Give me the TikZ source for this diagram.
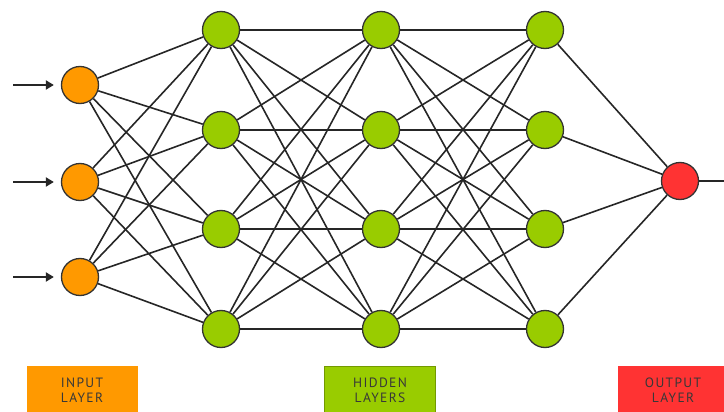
\documentclass[tikz,border=0pt]{standalone}
\usepackage{fontspec}
\newfontfamily\layerfont[LetterSpace=10]{PT Sans}
\usepackage{tikz}
\usetikzlibrary{positioning}
\usetikzlibrary{arrows.meta}
\usepackage{xcolor}
\definecolor{inorange}{HTML}{FF9900}
\definecolor{hidgreen}{HTML}{99CC00}
\definecolor{outred}{HTML}{FF3333}

\begin{document}
\begin{tikzpicture}[x=1pt, y=-1pt,
		neuron/.style={circle, draw=black!80, line width=1.3pt, minimum size=37pt, inner sep=0pt},
		link/.style={black!85, line width=1.6pt},
		layerbox/.style={minimum width=111pt, minimum height=48pt, anchor=north, align=center, inner sep=0pt, text=black!78, font=\layerfont\fontsize{13.5pt}{15pt}\selectfont}]
				    		\useasboundingbox (0, 0) rectangle (724, 412);
				    		% input layer
				    		\node[neuron, fill=inorange] (i1) at (80, 85) {};
				    		\node[neuron, fill=inorange] (i2) at (80, 182) {};
				    		\node[neuron, fill=inorange] (i3) at (80, 277) {};
				    		% hidden layers
				    		\foreach \c/\x in {1/221, 2/381, 3/545}
				    			\foreach \r/\y in {1/30, 2/130, 3/229, 4/329}
				    				\node[neuron, fill=hidgreen] (h\c\r) at (\x, \y) {};
				    		% output layer
				    		\node[neuron, fill=outred] (o) at (680, 181) {};
				    		% connections
				    		\foreach \a in {1, 2, 3}
				    			\foreach \b in {1, 2, 3, 4}
				    				\draw[link] (i\a) -- (h1\b);
				    		\foreach \a in {1, 2, 3, 4}
				    			\foreach \b in {1, 2, 3, 4}
				    			{
				    				\draw[link] (h1\a) -- (h2\b);
				    				\draw[link] (h2\a) -- (h3\b);
				    			}
				    		\foreach \a in {1, 2, 3, 4}
				    			\draw[link] (h3\a) -- (o);
				    		% inputs and output
				    		\coordinate (x1) at (13, 85);
				    		\coordinate (x2) at (13, 182);
				    		\coordinate (x3) at (13, 277);
				    		\coordinate (y) at (730, 181);
				    		\foreach \a in {1, 2, 3}
				    			\draw[link, line width=2.2pt, -{Triangle[length=8pt, width=9pt]}, shorten >=7pt] (x\a) -- (i\a);
				    		\draw[link, line width=2pt] (o) -- (y);
				    		% labels
				    		\node[layerbox, fill=inorange] (inlabel) at (82, 366) {INPUT\\LAYER};
				    		\node[layerbox, fill=hidgreen, draw=hidgreen!75!black, line width=1pt] (hidlabel) at (380, 366) {HIDDEN\\LAYERS};
				    		\node[layerbox, fill=outred] (outlabel) at (673, 366) {OUTPUT\\LAYER};
				    	\end{tikzpicture}
\end{document}
